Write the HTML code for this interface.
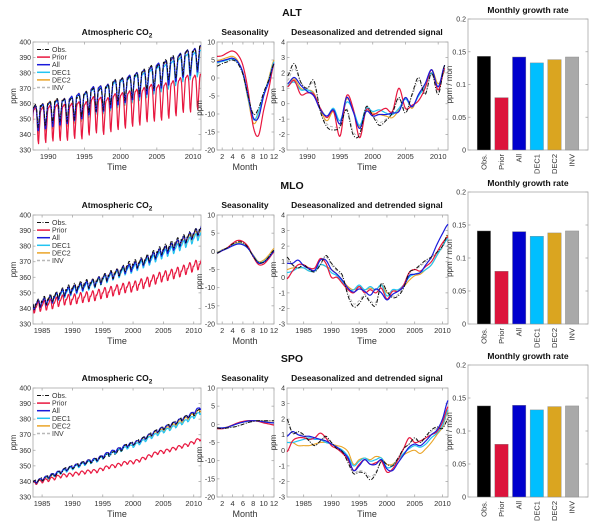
<!DOCTYPE html>
<html><head><meta charset="utf-8"><style>
html,body{margin:0;padding:0;background:#fff}
svg{display:block;font-family:"Liberation Sans",sans-serif}
</style></head><body>
<svg id="fig" width="600" height="526" viewBox="0 0 600 526"></svg>
<script>
// ---------- data ----------
const seriesNames = ['Obs.','Prior','All','DEC1','DEC2','INV'];
const barCats = ['Obs.','Prior','All','DEC1','DEC2','INV'];
const months = [1,2,3,4,5,6,7,8,9,10,11,12];

// ALT
const altDesYears = [1987,1988,1989,1990,1991,1992,1993,1994,1995,1996,1997,1998,1999,2000,2001,2002,2003,2004,2005,2006,2007,2008,2009,2010,2011];
const altDesObs  = [1.8,2.6,1.4,1.0,1.5,-0.5,-1.5,-1.7,-1.5,-0.4,-2.0,-2.0,-0.2,-0.8,-1.4,-1.1,-0.6,0.4,-0.6,0.6,1.7,0.6,2.0,0.6,2.5];
const altDesPrior= [1.1,1.5,0.6,0.7,0.6,-0.3,-0.9,-0.5,-2.1,0.5,-0.3,-2.2,-0.4,-0.7,-0.5,-0.3,-0.5,1.0,-0.3,-0.1,0.2,1.0,2.2,0.9,2.3];
const altDesAll  = [1.3,1.7,1.2,0.8,0.5,-0.4,-0.8,-0.4,-1.3,0.4,-0.5,-1.6,-0.5,-0.8,-0.7,-0.7,-0.6,-0.5,0.4,-0.2,0.6,1.3,2.2,1.1,2.5];
const altDesDec1 = [1.2,1.4,0.9,0.9,0.6,-0.3,-0.8,-0.3,-1.1,0.1,-0.4,-1.4,-0.3,-0.5,-0.4,-0.6,-0.7,-0.3,0.3,-0.2,0.5,1.1,2.0,1.1,2.2];
const altDesDec2 = [1.3,1.6,1.0,0.9,0.7,-0.4,-1.1,-0.5,-1.3,0.3,-0.4,-1.5,-0.5,-0.6,-0.7,-0.8,-0.9,-0.4,0.4,-0.3,0.6,1.2,2.2,1.3,2.1];
const altDesInv  = [1.5,2.3,1.4,1.0,1.3,-0.4,-1.3,-1.5,-1.4,-0.3,-1.8,-1.9,-0.3,-0.7,-1.2,-1.0,-0.6,0.3,-0.4,0.5,1.5,0.7,1.9,0.8,2.3];
const altSeasObs  = [3.3,4.0,4.5,5.0,4.0,1.0,-5,-10,-8.5,-4,-0.5,4];
const altSeasPrior= [6.0,6.2,7.0,7.5,6.5,3.5,-3.5,-13.5,-16,-9,-3,4];
const altSeasAll  = [4.5,4.8,5.2,5.5,4.5,1.5,-5,-11,-11,-5,-1,4];
const altSeasDec1 = [4.3,4.6,5.0,5.3,4.3,1.2,-5.5,-11.5,-9.5,-4.5,-0.5,4.5];
const altSeasDec2 = [4.8,5.2,5.7,6.0,4.8,1.0,-6,-12.5,-10.5,-5,0,5];
const altSeasInv  = [4.0,4.5,5.0,5.3,4.2,1.3,-5,-10,-9,-4.5,-0.5,4];
const altBase = [351.5,348.5,351,351,351,351.3];
const altGrowth = [0.143,0.080,0.142,0.133,0.138,0.142];

// MLO
const mloDesYears = [1982,1983,1984,1985,1986,1987,1988,1989,1990,1991,1992,1993,1994,1995,1996,1997,1998,1999,2000,2001,2002,2003,2004,2005,2006,2007,2008,2009,2010,2011];
const mloDesObs  = [1.3,0.8,0.6,0.8,0.5,0.35,0.8,1.4,0.9,0.5,0.1,-1.2,-1.9,-1.7,-1.2,-1.6,-1.8,-0.4,-0.9,-1.3,-1.2,-0.7,0.3,0.5,0.8,1.1,1.3,1.6,2.0,2.8];
const mloDesPrior= [-0.1,0.4,0.8,0.8,0.6,0.6,1.2,0.9,0.0,0.0,-0.4,-0.8,-1.0,-0.6,-1.0,-0.8,-1.0,-0.7,-1.4,-0.9,-0.9,-0.5,0.3,0.5,0.4,0.7,1.0,1.6,2.2,2.6];
const mloDesAll  = [0.9,0.9,1.1,0.75,0.55,0.45,1.1,1.1,0.5,0.2,-0.2,-0.7,-0.95,-0.75,-0.9,-1.15,-0.75,-1.0,-1.45,-1.1,-0.9,-0.6,0.1,0.2,0.3,0.8,1.3,2.1,2.8,3.4];
const mloDesDec1 = [0.3,0.4,0.6,0.6,0.4,0.4,0.8,0.7,0.3,0.1,-0.3,-0.8,-0.8,-0.5,-0.8,-0.6,-0.8,-0.5,-1.2,-0.8,-0.8,-0.5,0.0,0.2,0.3,0.5,0.8,1.4,2.0,2.5];
const mloDesDec2 = [0.5,0.6,0.6,0.6,0.4,0.45,0.8,0.7,0.5,0.2,-0.2,-0.6,-0.8,-0.6,-0.8,-0.7,-0.8,-0.5,-1.0,-0.9,-0.8,-0.6,-0.2,0.1,0.2,0.5,0.8,1.4,2.0,2.7];
const mloDesInv  = [1.1,0.8,0.6,0.7,0.5,0.4,0.8,1.3,0.8,0.4,0.0,-1.0,-1.7,-1.5,-1.1,-1.5,-1.6,-0.5,-0.9,-1.2,-1.1,-0.6,0.2,0.5,0.7,1.0,1.2,1.5,1.9,2.6];
const mloSeasObs  = [-0.5,0.3,1.0,2.0,2.6,2.4,1.0,-1.5,-3.0,-3.0,-1.5,0.3];
const mloSeasPrior= [-0.5,0.2,1.0,2.2,3.0,2.7,1.3,-1.5,-3.6,-3.5,-2.0,-0.2];
const mloSeasAll  = [-0.5,0.2,0.8,1.5,2.0,1.8,0.8,-1.3,-3.2,-3.0,-1.7,0.0];
const mloSeasDec1 = [-0.4,0.3,0.9,1.6,2.1,1.9,0.8,-1.2,-3.0,-2.8,-1.5,0.2];
const mloSeasDec2 = [-0.3,0.4,1.0,1.7,2.3,2.0,0.8,-1.0,-2.8,-2.4,-1.0,0.8];
const mloSeasInv  = [-0.5,0.3,1.0,1.9,2.5,2.3,1.0,-1.4,-3.0,-3.0,-1.5,0.3];
const mloBase = [341.3,339.8,341,340.8,341,341.3];
const mloGrowth = [0.141,0.080,0.140,0.133,0.138,0.141];

// SPO
const spoDesYears = mloDesYears;
const spoDesObs  = [2.0,1.1,1.2,1.0,0.6,0.3,0.6,0.9,0.5,0.1,-0.1,-0.8,-1.5,-1.4,-1.5,-1.9,-1.5,-0.7,-0.9,-1.0,-0.5,0.1,0.4,0.8,0.5,0.9,1.3,1.5,1.4,2.0];
const spoDesPrior= [-0.1,0.6,0.8,0.8,0.7,0.8,1.1,0.8,0.3,0.1,-0.2,-0.6,-1.3,-0.9,-0.6,-0.9,-0.8,-0.7,-1.4,-1.2,-0.6,0.1,0.8,0.5,0.6,0.8,1.0,1.2,1.8,2.8];
const spoDesAll  = [0.9,1.2,1.0,0.9,0.9,0.8,0.7,0.6,0.4,0.2,-0.1,-0.5,-1.3,-1.0,-0.6,-0.9,-0.9,-0.6,-1.2,-1.3,-0.8,-0.3,0.2,0.4,0.3,0.6,1.0,1.3,2.0,3.2];
const spoDesDec1 = [0.5,0.5,0.6,0.7,0.8,0.7,0.7,0.5,0.4,0.2,0.0,-0.4,-1.0,-0.7,-0.5,-0.7,-0.6,-0.5,-1.1,-1.0,-0.6,-0.2,0.1,0.3,0.2,0.4,0.8,1.1,1.6,2.6];
const spoDesDec2 = [0.5,0.5,0.3,0.3,0.3,0.4,0.5,0.5,0.4,0.3,0.2,-0.1,-0.9,-0.6,-0.5,-0.6,-0.4,-0.5,-0.9,-0.9,-0.6,-0.3,-0.1,0.0,-0.2,0.1,0.5,1.0,1.5,2.5];
const spoDesInv  = [1.8,1.1,1.1,0.9,0.6,0.3,0.6,0.8,0.5,0.1,-0.1,-0.7,-1.4,-1.3,-1.4,-1.7,-1.4,-0.7,-0.9,-0.9,-0.5,0.1,0.4,0.7,0.5,0.8,1.2,1.4,1.4,2.0];
const spoSeasObs  = [-1.0,-1.2,-1.0,-0.8,-0.5,0.0,0.5,0.8,1.0,1.0,1.0,1.0];
const spoSeasPrior= [-1.2,-1.2,-0.8,-0.2,0.4,0.8,1.0,1.0,0.8,0.4,0.1,-0.2];
const spoSeasAll  = [-1.0,-1.0,-0.8,-0.3,0.2,0.6,0.9,1.0,0.9,0.7,0.5,0.4];
const spoSeasDec1 = [-1.0,-1.0,-0.8,-0.3,0.2,0.6,0.9,1.0,0.9,0.7,0.5,0.4];
const spoSeasDec2 = [-0.9,-1.0,-0.7,-0.2,0.3,0.7,1.0,1.0,1.0,0.8,0.6,0.5];
const spoSeasInv  = [-1.0,-1.1,-0.9,-0.7,-0.4,0.0,0.5,0.8,0.9,1.0,1.0,1.0];
const spoBase = [338,338,338,337.8,337.8,338];
const spoGrowth = [0.138,0.080,0.139,0.132,0.137,0.138];

const co2TicksY = [330,340,350,360,370,380,390,400];
const seasTicksY = [10,5,0,-5,-10,-15,-20];
const desTicksY = [4,3,2,1,0,-1,-2,-3];
const barTicksY = [0,0.05,0.1,0.15,0.2];
const monthTicks = [2,4,6,8,10,12];

// ---------- styling / layout ----------
const lineColors = ['#111111','#e8173f','#1a1adb','#22c4f2','#eaa528','#b8b8b8'];
const lineWidths = [1,1.2,1.2,1.2,1.1,1];
const lineDash = ['4,1.5,1,1.5','','','','','3,2'];
const barColors = ['#000000','#dc143c','#0000cd','#00bfff','#daa520','#a9a9a9'];
const drawOrder = [5,4,3,1,2,0];
const TF = 7;

const rows = [
 {name:'ALT', top:42, bot:150, btop:19, titleY:16, co2X:[1987.9,2011.1], co2Ticks:[1990,1995,2000,2005,2010],
  desX:[1986.9,2011.5], desTicks:[1990,1995,2000,2005,2010],
  desYears:altDesYears, des:[altDesObs,altDesPrior,altDesAll,altDesDec1,altDesDec2,altDesInv],
  seas:[altSeasObs,altSeasPrior,altSeasAll,altSeasDec1,altSeasDec2,altSeasInv], base:altBase, growth:altGrowth},
 {name:'MLO', top:215, bot:324, btop:192, titleY:189, co2X:[1983.5,2011.2], co2Ticks:[1985,1990,1995,2000,2005,2010],
  desX:[1982,2011], desTicks:[1985,1990,1995,2000,2005,2010],
  desYears:mloDesYears, des:[mloDesObs,mloDesPrior,mloDesAll,mloDesDec1,mloDesDec2,mloDesInv],
  seas:[mloSeasObs,mloSeasPrior,mloSeasAll,mloSeasDec1,mloSeasDec2,mloSeasInv], base:mloBase, growth:mloGrowth},
 {name:'SPO', top:388, bot:497, btop:365, titleY:362, co2X:[1983.5,2011.2], co2Ticks:[1985,1990,1995,2000,2005,2010],
  desX:[1982,2011], desTicks:[1985,1990,1995,2000,2005,2010],
  desYears:spoDesYears, des:[spoDesObs,spoDesPrior,spoDesAll,spoDesDec1,spoDesDec2,spoDesInv],
  seas:[spoSeasObs,spoSeasPrior,spoSeasAll,spoSeasDec1,spoSeasDec2,spoSeasInv], base:spoBase, growth:spoGrowth}
];

const svg = document.getElementById('fig');
const NS = 'http://www.w3.org/2000/svg';
function el(tag, attrs, name, parent, txt){
  const e = document.createElementNS(NS, tag);
  for (const k in attrs) e.setAttribute(k, attrs[k]);
  
  
  if (txt !== undefined) e.textContent = txt;
  (parent || svg).appendChild(e);
  return e;
}
function scale(d0,d1,r0,r1){ return v => r0 + (v-d0)/(d1-d0)*(r1-r0); }
function catmull(xs, ys, t){
  if (t <= xs[0]) return ys[0];
  const n = xs.length;
  if (t >= xs[n-1]) return ys[n-1];
  let i = 0; while (xs[i+1] < t) i++;
  const u = (t - xs[i])/(xs[i+1]-xs[i]);
  const p0 = ys[Math.max(i-1,0)], p1 = ys[i], p2 = ys[i+1], p3 = ys[Math.min(i+2,n-1)];
  return 0.5*((2*p1)+(-p0+p2)*u+(2*p0-5*p1+4*p2-p3)*u*u+(-p0+3*p1-3*p2+p3)*u*u*u);
}
function seasAt(arr, m){
  const i = Math.floor(m), f = m - i;
  return arr[i%12]*(1-f) + arr[(i+1)%12]*f;
}
const AX = '#a8a8a8', TXT = '#333';

function axesBox(x0,y0,x1,y1,name,g){
  el('rect',{x:x0,y:y0,width:x1-x0,height:y1-y0,fill:'#fff',stroke:AX,'stroke-width':0.8},name+'-frame',g);
}
function yTicks(ticks, sy, x0, x1, name, g){
  ticks.forEach(v=>{
    const y = sy(v);
    el('line',{x1:x0,y1:y,x2:x0+2.5,y2:y,stroke:AX,'stroke-width':0.8},name+'-ytick',g);
    el('line',{x1:x1,y1:y,x2:x1-2.5,y2:y,stroke:AX,'stroke-width':0.8},name+'-ytick-right',g);
    el('text',{x:x0-2,y:y+2.5,'font-size':TF,fill:TXT,'text-anchor':'end'},name+'-ytick-label',g,v);
  });
}
function xTicks(ticks, sx, y0, y1, name, g){
  ticks.forEach(v=>{
    const x = sx(v);
    el('line',{x1:x,y1:y1,x2:x,y2:y1-2.5,stroke:AX,'stroke-width':0.8},name+'-xtick',g);
    el('line',{x1:x,y1:y0,x2:x,y2:y0+2.5,stroke:AX,'stroke-width':0.8},name+'-xtick-top',g);
    el('text',{x:x,y:y1+9,'font-size':TF+0.5,fill:TXT,'text-anchor':'middle'},name+'-xtick-label',g,v);
  });
}
function ylabel(x,y,txt,name,g){
  el('text',{x:x,y:y,'font-size':8,fill:TXT,'text-anchor':'middle',transform:`rotate(-90 ${x} ${y})`},name,g,txt);
}
function pathFrom(pts){ return pts.map((p,i)=>(i?'L':'M')+p[0].toFixed(2)+','+p[1].toFixed(2)).join(''); }

rows.forEach((R, ri)=>{
  const g = el('g',{},'station-row-'+R.name.toLowerCase());
  const key = R.name.toLowerCase();
  el('text',{x:292,y:R.titleY,'font-size':10.5,'font-weight':'bold',fill:'#111','text-anchor':'middle'},key+'-station-title',g,R.name);

  // ---- CO2 panel ----
  const cx0=33,cx1=201;
  const sx = scale(R.co2X[0],R.co2X[1],cx0,cx1), sy = scale(330,400,R.bot,R.top);
  axesBox(cx0,R.top,cx1,R.bot,key+'-co2-axes',g);
  const clipId = 'clip'+ri;
  const cp = el('clipPath',{id:clipId},key+'-co2-clip',g);
  el('rect',{x:cx0,y:R.top,width:cx1-cx0,height:R.bot-R.top},key+'-co2-clip-rect',cp);
  yTicks(co2TicksY, sy, cx0, cx1, key+'-co2', g);
  xTicks(R.co2Ticks, sx, R.top, R.bot, key+'-co2', g);
  const t1 = el('text',{x:117,y:R.top-7,'font-size':8.5,'font-weight':'bold',fill:'#111','text-anchor':'middle'},key+'-co2-title',g,'Atmospheric CO');
  const sub = document.createElementNS(NS,'tspan'); sub.setAttribute('dy','2.5'); sub.setAttribute('font-size','6.5'); sub.textContent='2';
  
  
  t1.appendChild(sub);
  el('text',{x:117,y:R.bot+20,'font-size':9,fill:TXT,'text-anchor':'middle'},key+'-co2-xlabel',g,'Time');
  ylabel(16,(R.top+R.bot)/2,'ppm',key+'-co2-ylabel',g);
  const cg = el('g',{'clip-path':`url(#${clipId})`},key+'-co2-series',g);
  drawOrder.forEach(s=>{
    const pts=[];
    const t0 = R.co2X[0];
    for (let t = Math.floor(t0*12)/12; t <= R.co2X[1]+0.05; t += 1/12){
      const mFrac = ((t % 1)+1)%1*12;
      const v = R.base[s] + R.growth[s]*12*(t - t0) + catmull(R.desYears, R.des[s], t) + seasAt(R.seas[s], mFrac);
      pts.push([sx(t), sy(v)]);
    }
    el('path',{d:pathFrom(pts),fill:'none',stroke:lineColors[s],'stroke-width':lineWidths[s],'stroke-dasharray':lineDash[s],'stroke-linejoin':'round'},key+'-co2-line-'+seriesNames[s].replace('.','').toLowerCase(),cg);
  });
  const lg = el('g',{},key+'-co2-legend',g);
  seriesNames.forEach((n,i)=>{
    const y = R.top+7.5+i*7.6;
    el('line',{x1:37,y1:y,x2:50,y2:y,stroke:lineColors[i],'stroke-width':i===0?1:1.5,'stroke-dasharray':lineDash[i]},'legend-swatch-'+n.replace('.','').toLowerCase(),lg);
    el('text',{x:52,y:y+2.5,'font-size':7,fill:TXT},'legend-entry-'+n.replace('.','').toLowerCase(),lg,n);
  });

  // ---- Seasonality ----
  const s0=217,s1=274;
  const ssx = scale(1,12,s0,s1), ssy = scale(-20,10,R.bot,R.top);
  axesBox(s0,R.top,s1,R.bot,key+'-seas-axes',g);
  yTicks(seasTicksY, ssy, s0, s1, key+'-seas', g);
  xTicks(monthTicks, ssx, R.top, R.bot, key+'-seas', g);
  el('text',{x:245,y:R.top-7,'font-size':8.5,'font-weight':'bold',fill:'#111','text-anchor':'middle'},key+'-seas-title',g,'Seasonality');
  el('text',{x:245,y:R.bot+20,'font-size':9,fill:TXT,'text-anchor':'middle'},key+'-seas-xlabel',g,'Month');
  ylabel(202,(R.top+R.bot)/2+12,'ppm',key+'-seas-ylabel',g);
  drawOrder.forEach(s=>{
    const pts=[];
    for (let m=1;m<=12;m+=0.1){ pts.push([ssx(m), ssy(catmull(months, R.seas[s], m))]); }
    el('path',{d:pathFrom(pts),fill:'none',stroke:lineColors[s],'stroke-width':lineWidths[s],'stroke-dasharray':lineDash[s]},key+'-seas-line-'+seriesNames[s].replace('.','').toLowerCase(),g);
  });

  // ---- Deseasonalized ----
  const d0=287,d1=448;
  const dsx = scale(R.desX[0],R.desX[1],d0,d1), dsy = scale(-3,4,R.bot,R.top);
  axesBox(d0,R.top,d1,R.bot,key+'-des-axes',g);
  yTicks(desTicksY, dsy, d0, d1, key+'-des', g);
  xTicks(R.desTicks, dsx, R.top, R.bot, key+'-des', g);
  el('text',{x:367,y:R.top-7,'font-size':8.5,'font-weight':'bold',fill:'#111','text-anchor':'middle'},key+'-des-title',g,'Deseasonalized and detrended signal');
  el('text',{x:367,y:R.bot+20,'font-size':9,fill:TXT,'text-anchor':'middle'},key+'-des-xlabel',g,'Time');
  ylabel(276,(R.top+R.bot)/2,'ppm',key+'-des-ylabel',g);
  drawOrder.forEach(s=>{
    const pts=[];
    const ys = R.desYears;
    for (let t=Math.max(ys[0],R.desX[0]); t<=Math.min(ys[ys.length-1],R.desX[1])+0.001; t+=0.05){
      pts.push([dsx(t), dsy(catmull(ys, R.des[s], t))]);
    }
    el('path',{d:pathFrom(pts),fill:'none',stroke:lineColors[s],'stroke-width':lineWidths[s],'stroke-dasharray':lineDash[s]},key+'-des-line-'+seriesNames[s].replace('.','').toLowerCase(),g);
  });

  // ---- Bar chart ----
  const b0=468,b1=588;
  const bsy = scale(0,0.2,R.bot,R.btop);
  axesBox(b0,R.btop,b1,R.bot,key+'-bar-axes',g);
  barTicksY.forEach(v=>{
    const y=bsy(v);
    el('line',{x1:b0,y1:y,x2:b0+2.5,y2:y,stroke:AX,'stroke-width':0.8},key+'-bar-ytick',g);
    el('line',{x1:b1,y1:y,x2:b1-2.5,y2:y,stroke:AX,'stroke-width':0.8},key+'-bar-ytick-right',g);
    el('text',{x:b0-2,y:y+2.5,'font-size':TF,fill:TXT,'text-anchor':'end'},key+'-bar-ytick-label',g,v);
  });
  el('text',{x:528,y:R.btop-6,'font-size':8.5,'font-weight':'bold',fill:'#111','text-anchor':'middle'},key+'-bar-title',g,'Monthly growth rate');
  ylabel(452,(R.btop+R.bot)/2,'ppm / mon',key+'-bar-ylabel',g);
  const slot = (b1-b0)/6.8;
  barCats.forEach((c,i)=>{
    const xc = b0 + slot*(0.9+i);
    const y = bsy(R.growth[i]);
    el('rect',{x:xc-6.7,y:y,width:13.4,height:R.bot-y,fill:barColors[i],stroke:'#888','stroke-width':0.4},key+'-bar-'+c.replace('.','').toLowerCase(),g);
    el('text',{x:xc+2.5,y:R.bot+4,'font-size':7.5,fill:TXT,'text-anchor':'end',transform:`rotate(-90 ${xc+2.5} ${R.bot+4})`},key+'-bar-label-'+c.replace('.','').toLowerCase(),g,c);
  });
});
</script>
</body></html>
